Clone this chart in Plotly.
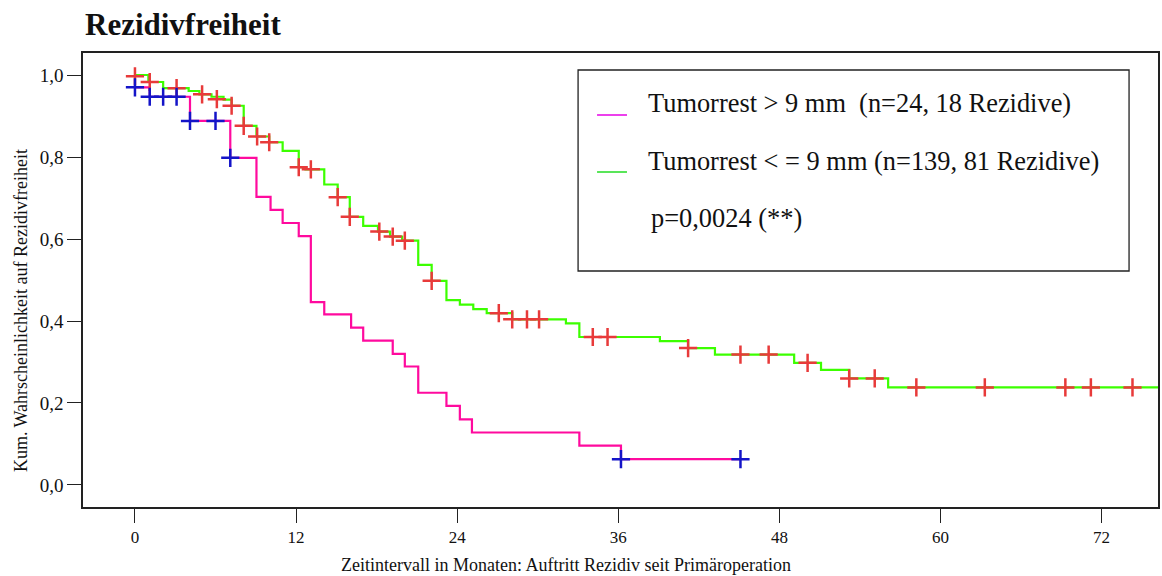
import plotly.graph_objects as go

# ---------------- data ----------------
# Group 1: Tumorrest > 9 mm (step curve, survival after each time)
t_hi = [0, 1.1, 4.1, 7.1, 9.05, 10.1, 11.0, 12.2, 13.1, 14.1, 16.1, 17.0, 19.2, 20.1,
        21.1, 23.2, 24.2, 25.1, 33.1, 36.2, 45.1]
s_hi = [0.970, 0.947, 0.888, 0.798, 0.703, 0.671, 0.639, 0.607, 0.446, 0.416, 0.384,
        0.352, 0.320, 0.289, 0.225, 0.193, 0.160, 0.128, 0.096, 0.063, 0.063]
cens_t_hi = [0, 1.1, 2.1, 3.1, 4.1, 6.0, 7.1, 36.2, 45.1]
cens_s_hi = [0.970, 0.947, 0.947, 0.947, 0.888, 0.888, 0.798, 0.063, 0.063]

# Group 2: Tumorrest <= 9 mm
t_lo = [0, 1.0, 2.1, 4.0, 4.8, 5.7, 6.6, 7.2, 8.1, 9.05, 10.0, 11.0, 12.2, 12.7, 14.1,
        15.1, 16.0, 17.0, 18.1, 19.0, 19.9, 21.1, 22.1, 23.2, 24.2, 25.2, 26.2, 28.1,
        32.1, 33.1, 39.1, 41.2, 43.2, 49.1, 51.1, 53.2, 56.1, 76.3]
s_lo = [1.0, 0.983, 0.968, 0.961, 0.953, 0.947, 0.940, 0.925, 0.876, 0.850, 0.836,
        0.815, 0.775, 0.770, 0.733, 0.702, 0.654, 0.632, 0.618, 0.606, 0.596, 0.537,
        0.498, 0.451, 0.440, 0.429, 0.419, 0.404, 0.394, 0.361, 0.351, 0.334, 0.318,
        0.298, 0.281, 0.260, 0.238, 0.238]
cens_t_lo = [0, 1.1, 3.1, 5.0, 6.1, 7.2, 8.1, 9.1, 10.0, 12.2, 13.1, 15.1, 16.0, 18.2,
             19.2, 20.1, 22.1, 27.1, 28.1, 29.2, 30.1, 34.1, 35.2, 41.2, 45.1, 47.2,
             50.1, 53.2, 55.1, 58.2, 63.3, 69.3, 71.2, 74.3]
cens_s_lo = [0.997, 0.983, 0.968, 0.953, 0.941, 0.925, 0.876, 0.850, 0.836, 0.775,
             0.770, 0.702, 0.654, 0.618, 0.606, 0.596, 0.498, 0.419, 0.404, 0.404,
             0.404, 0.361, 0.361, 0.334, 0.318, 0.318, 0.298, 0.260, 0.260, 0.238,
             0.238, 0.238, 0.238, 0.238]

x_ticks = [0, 12, 24, 36, 48, 60, 72]
y_ticks = [0.0, 0.2, 0.4, 0.6, 0.8, 1.0]
y_ticktext = ["0,0", "0,2", "0,4", "0,6", "0,8", "1,0"]

legend_labels = ["Tumorrest > 9 mm  (n=24, 18 Rezidive)",
                 "Tumorrest < = 9 mm (n=139, 81 Rezidive)",
                 "p=0,0024 (**)"]
title_text = "Rezidivfreiheit"
x_title = "Zeitintervall in Monaten: Auftritt Rezidiv seit Primäroperation"
y_title = "Kum. Wahrscheinlichkeit auf Rezidivfreiheit"

# ---------------- style ----------------
W, H = 1162, 576
L, R, T, B = 83, 1160, 53, 507  # plot area in pixels
FONT = "Liberation Serif, Times New Roman, serif"
C_HI = "#ff0a9e"
C_LO = "#3cff00"
C_RED = "#e83a3a"
C_BLUE = "#1414c8"


def px(xp):
    return (xp - L) / (R - L)


def py(yp):
    return (B - yp) / (B - T)


fig = go.Figure()
fig.add_trace(go.Scatter(x=t_hi, y=s_hi, mode="lines", line=dict(color=C_HI, width=2.2, shape="hv"),
                         showlegend=False, hoverinfo="skip"))
fig.add_trace(go.Scatter(x=t_lo, y=s_lo, mode="lines", line=dict(color=C_LO, width=2.2, shape="hv"),
                         showlegend=False, hoverinfo="skip"))
fig.add_trace(go.Scatter(x=cens_t_lo, y=cens_s_lo, mode="markers",
                         marker=dict(symbol="cross-thin", size=13, line=dict(color=C_RED, width=2.5)),
                         showlegend=False, hoverinfo="skip"))
fig.add_trace(go.Scatter(x=cens_t_hi, y=cens_s_hi, mode="markers",
                         marker=dict(symbol="cross-thin", size=13, line=dict(color=C_BLUE, width=2.5)),
                         showlegend=False, hoverinfo="skip"))

axis_common = dict(showline=True, linecolor="#222", linewidth=1.5, mirror=True,
                   showgrid=False, zeroline=False, ticks="outside", ticklen=14,
                   tickcolor="#222", tickwidth=1.2)

fig.update_xaxes(range=[-3.87, 76.2], tickvals=x_ticks, ticktext=[str(v) for v in x_ticks],
                 tickfont=dict(family=FONT, size=17, color="#111"), **axis_common)
fig.update_yaxes(range=[-0.0537, 1.0537], tickvals=y_ticks, ticktext=y_ticktext,
                 tickfont=dict(family=FONT, size=19, color="#111"), **axis_common)

annotations = [
    dict(text="<b>" + title_text + "</b>", x=px(83), y=py(25), xref="paper", yref="paper",
         xanchor="left", yanchor="middle", showarrow=False,
         font=dict(family=FONT, size=31, color="#111")),
    dict(text=x_title, x=px(567), y=py(565), xref="paper", yref="paper",
         xanchor="center", yanchor="middle", showarrow=False,
         font=dict(family=FONT, size=18, color="#111")),
    dict(text=y_title, x=px(21), y=py(311), xref="paper", yref="paper", textangle=-90,
         xanchor="center", yanchor="middle", showarrow=False,
         font=dict(family=FONT, size=18, color="#111")),
]
legend_y = [103, 161, 218]
legend_x = [647, 647, 650]
for lab, lx, ly in zip(legend_labels, legend_x, legend_y):
    annotations.append(dict(text=lab, x=px(lx), y=py(ly), xref="paper", yref="paper",
                            xanchor="left", yanchor="middle", showarrow=False,
                            font=dict(family=FONT, size=26.4, color="#111")))

shapes = [
    dict(type="rect", xref="paper", yref="paper", x0=px(579), x1=px(1131), y0=py(271), y1=py(70),
         line=dict(color="#222", width=1.3), fillcolor="rgba(0,0,0,0)"),
    dict(type="line", xref="paper", yref="paper", x0=px(598), x1=px(628), y0=py(115), y1=py(115),
         line=dict(color="#e600e6", width=1.5)),
    dict(type="line", xref="paper", yref="paper", x0=px(598), x1=px(628), y0=py(172), y1=py(172),
         line=dict(color="#22dd22", width=1.5)),
]

fig.update_layout(width=W, height=H, margin=dict(l=L, r=W - R, t=T, b=H - B),
                  paper_bgcolor="white", plot_bgcolor="white",
                  annotations=annotations, shapes=shapes, showlegend=False)

fig.write_html("out.html")
